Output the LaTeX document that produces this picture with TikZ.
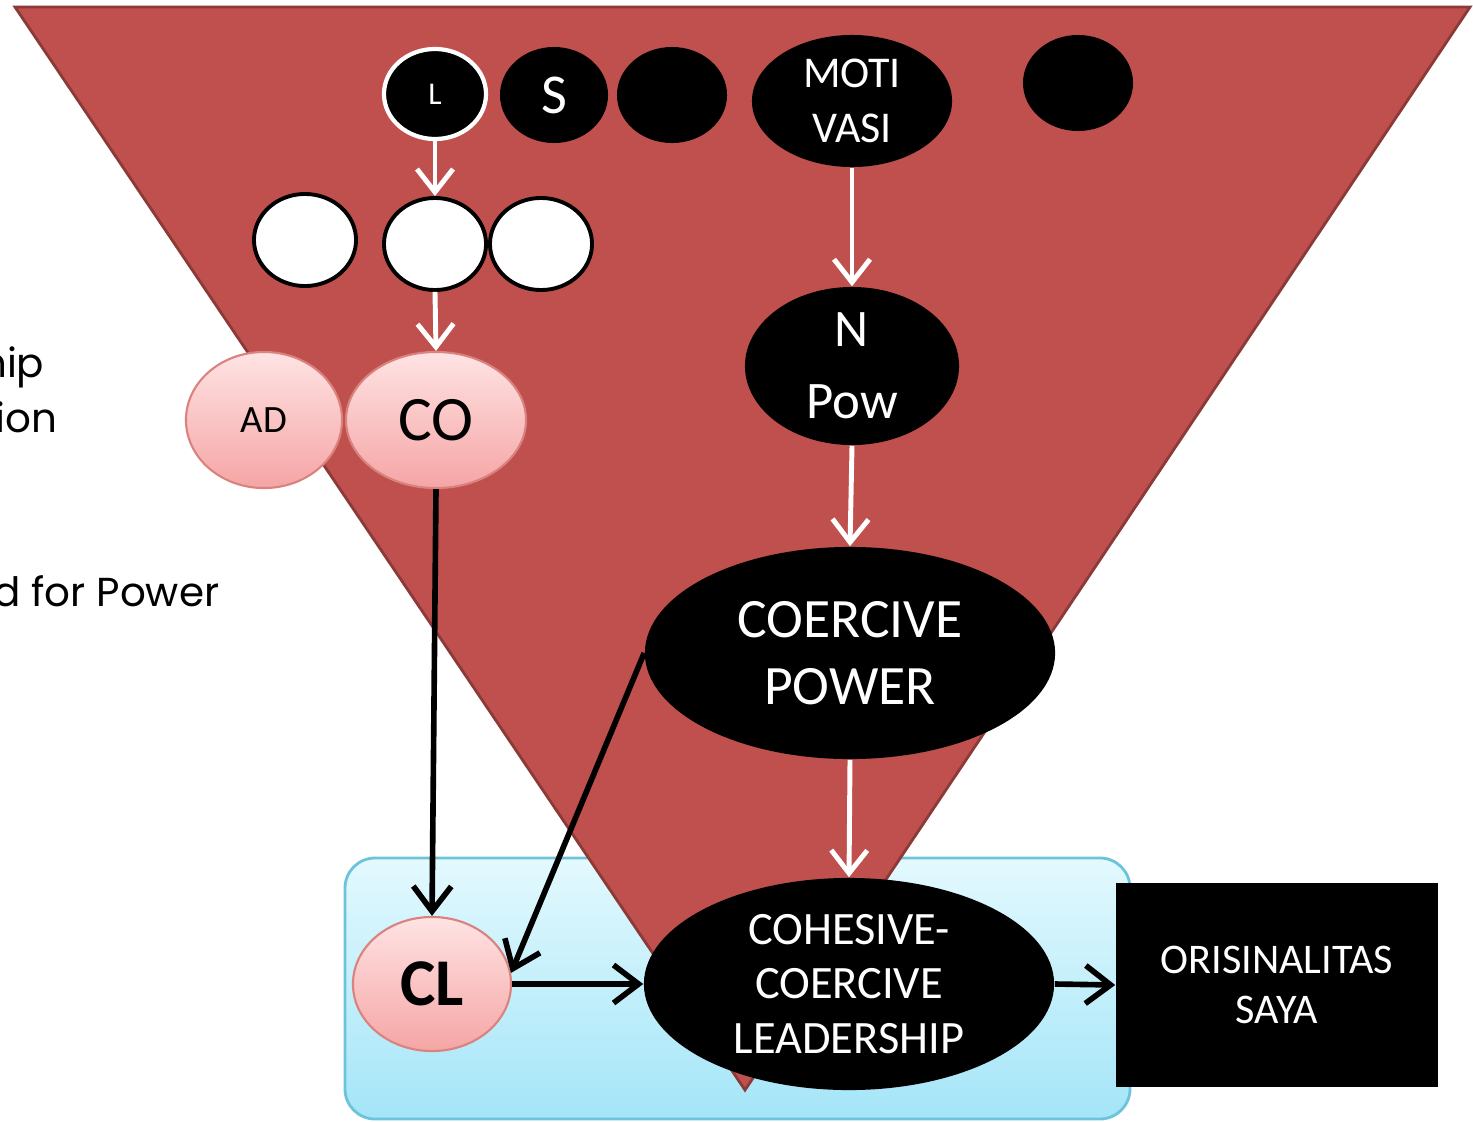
\documentclass[tikz,border=0pt]{standalone}
\usepackage{fontspec}
\setmainfont{Carlito}
\newfontfamily\sidefont{Poppins}
\usetikzlibrary{shapes.geometric,arrows.meta}

\definecolor{funnelred}{HTML}{C0504D}
\definecolor{funneledge}{HTML}{8C3A38}
\definecolor{pinktop}{HTML}{FFE3E3}
\definecolor{pinkbot}{HTML}{F5A5A5}
\definecolor{pinkedge}{HTML}{D9827E}
\definecolor{boxtop}{HTML}{E3F9FE}
\definecolor{boxbot}{HTML}{A4E5F8}
\definecolor{boxedge}{HTML}{6CC3DA}

\tikzset{
  blob/.style={ellipse,fill=black,text=white,inner sep=0pt,align=center},
  hollow/.style={ellipse,fill=white,draw=black,line width=1.1pt,inner sep=0pt,
    minimum width=1.02cm,minimum height=0.92cm},
  pinkblob/.style={ellipse,top color=pinktop,bottom color=pinkbot,draw=pinkedge,
    line width=0.6pt,inner sep=0pt},
  sidetext/.style={anchor=base east,inner sep=0pt,font=\sidefont\fontsize{11.5}{13}\selectfont},
  whitearrow/.style={draw=white,line width=1.4pt,
    -{Straight Barb[length=2.3mm,width=3.6mm,line width=1.4pt]}},
  blackarrow/.style={draw=black,line width=1.6pt,
    -{Straight Barb[length=2.5mm,width=3.8mm,line width=1.6pt]}},
}

\begin{document}
\begin{tikzpicture}[x=0.01cm,y=-0.01cm]
\useasboundingbox (0,0) rectangle (1473,1121);
%% light blue frame
\draw[rounded corners=0.3cm,top color=boxtop,bottom color=boxbot,draw=boxedge,line width=0.8pt]
  (345,858) rectangle (1130,1119);
%% funnel
\draw[fill=funnelred,draw=funneledge,line width=0.8pt] (15,7) -- (1470,7) -- (745,1090) -- cycle;
%% side text
\node[sidetext] (sidea) at (45,377) {hip};
\node[sidetext] (sideb) at (58,432) {sion};
\node[sidetext] (sidec) at (220,606) {d for Power};
%% top row
\node[blob,draw=white,line width=1.2pt,minimum width=1.02cm,minimum height=0.9cm,
  font=\fontsize{9}{10}\selectfont] (L) at (435,94) {L};
\node[blob,minimum width=1.08cm,minimum height=0.96cm,font=\fontsize{16}{18}\selectfont] (S) at (554,95) {S};
\node[blob,minimum width=1.1cm,minimum height=0.96cm] (blanka) at (672,95) {};
\node[blob,minimum width=2.0cm,minimum height=1.32cm,font=\fontsize{12.5}{15.8}\selectfont] (moti) at (852,101) {MOTI\\VASI};
\node[blob,minimum width=1.1cm,minimum height=0.96cm] (blankb) at (1078,83) {};
%% second row
\node[hollow] (wa) at (305,240) {};
\node[hollow] (wb) at (435,244) {};
\node[hollow] (wc) at (541,244) {};
%% pink nodes
\node[pinkblob,minimum width=1.56cm,minimum height=1.36cm,font=\fontsize{11}{12}\selectfont] (AD) at (264,420) {AD};
\node[pinkblob,minimum width=1.8cm,minimum height=1.36cm,font=\fontsize{18}{20}\selectfont] (CO) at (436,420) {CO};
\node[pinkblob,minimum width=1.58cm,minimum height=1.34cm,font=\bfseries\fontsize{19}{21}\selectfont] (CL) at (432,984) {CL};
%% right column
\node[blob,minimum width=2.14cm,minimum height=1.58cm,font=\fontsize{15}{20.5}\selectfont] (npow) at (852,366) {N\\Pow};
\node[blob,minimum width=4.1cm,minimum height=2.12cm,font=\fontsize{15.8}{19}\selectfont] (coercive) at (850,653) {COERCIVE\\POWER};
\node[blob,minimum width=4.1cm,minimum height=2.12cm,font=\fontsize{13.2}{15.6}\selectfont] (cohesive) at (849,984) {COHESIVE-\\COERCIVE\\LEADERSHIP};
\node[fill=black,text=white,inner sep=0pt,align=center,minimum width=3.22cm,minimum height=2.03cm,
  font=\fontsize{12}{14}\selectfont] (oris) at (1277,985) {ORISINALITAS\\SAYA};
%% arrows
\draw[whitearrow] (L.south) -- (wb.north);
\draw[whitearrow] (wb.south) -- (CO.north);
\draw[whitearrow] (moti.south) -- (npow.north);
\draw[whitearrow] (npow.south) -- (coercive.north);
\draw[whitearrow] (coercive.south) -- (cohesive.north);
\draw[blackarrow] (CO.south) -- (CL.north);
\draw[blackarrow] (coercive.west) -- (CL.8);
\draw[blackarrow] (CL.east) -- (cohesive.west);
\draw[blackarrow] (cohesive.east) -- (oris.west);
\end{tikzpicture}
\end{document}
